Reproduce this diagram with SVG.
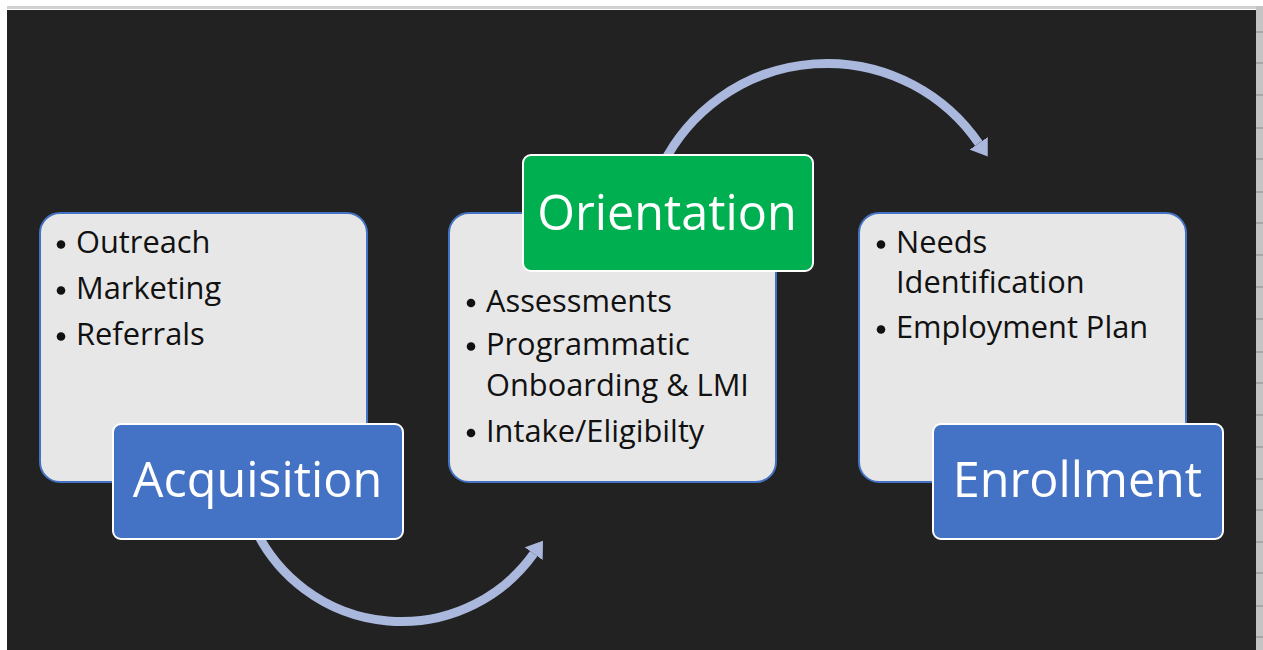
<svg xmlns="http://www.w3.org/2000/svg" width="1263" height="650" viewBox="0 0 1263 650">
  <defs>
    <style>
      .content { fill: #E7E7E7; stroke: #4472C4; stroke-width: 2; }
      .label { stroke: #FFFFFF; stroke-width: 2; }
      .blue { fill: #4472C4; }
      .green { fill: #00B050; }
      .title { font-family: "Open Sans", "Noto Sans", sans-serif; font-size: 48.5px; fill: #FFFFFF; text-anchor: middle; }
      .item { font-family: "Open Sans", "Noto Sans", sans-serif; font-size: 30.8px; fill: #111111; }
      .dot { fill: #111111; }
      .arc { fill: none; stroke: #AAB8DE; stroke-width: 9; }
      .grid { stroke: #8A8A8A; stroke-width: 1; }
    </style>
    <marker id="head" markerUnits="userSpaceOnUse" viewBox="0 0 16 22" refX="0" refY="11" markerWidth="16" markerHeight="22" orient="auto">
      <path d="M0,0 L16,11 L0,22 Z" fill="#AAB8DE"/>
    </marker>
  </defs>

  <rect x="0" y="0" width="1263" height="650" fill="#FFFFFF"/>
  <rect x="7" y="6" width="1250" height="3" fill="#D0D0D0"/>
  <rect x="1256" y="6" width="7" height="644" fill="#C4C4C4"/>
  <g>
    <line class="grid" x1="1256" y1="32" x2="1263" y2="32"/>
    <line class="grid" x1="1256" y1="63" x2="1263" y2="63"/>
    <line class="grid" x1="1256" y1="95" x2="1263" y2="95"/>
    <line class="grid" x1="1256" y1="128" x2="1263" y2="128"/>
    <line class="grid" x1="1256" y1="159" x2="1263" y2="159"/>
    <line class="grid" x1="1256" y1="192" x2="1263" y2="192"/>
    <line class="grid" x1="1256" y1="223" x2="1263" y2="223"/>
    <line class="grid" x1="1256" y1="255" x2="1263" y2="255"/>
    <line class="grid" x1="1256" y1="287" x2="1263" y2="287"/>
    <line class="grid" x1="1256" y1="319" x2="1263" y2="319"/>
    <line class="grid" x1="1256" y1="352" x2="1263" y2="352"/>
    <line class="grid" x1="1256" y1="383" x2="1263" y2="383"/>
    <line class="grid" x1="1256" y1="415" x2="1263" y2="415"/>
    <line class="grid" x1="1256" y1="447" x2="1263" y2="447"/>
    <line class="grid" x1="1256" y1="479" x2="1263" y2="479"/>
    <line class="grid" x1="1256" y1="510" x2="1263" y2="510"/>
    <line class="grid" x1="1256" y1="542" x2="1263" y2="542"/>
    <line class="grid" x1="1256" y1="573" x2="1263" y2="573"/>
    <line class="grid" x1="1256" y1="606" x2="1263" y2="606"/>
    <line class="grid" x1="1256" y1="637" x2="1263" y2="637"/>
  </g>
  <rect x="7" y="10" width="1249" height="640" fill="#222222"/>

  <g id="connectors">
    <path class="arc" d="M 255.6 530 A 162.3 162.3 0 0 0 533.7 553.7" marker-end="url(#head)"/>
    <path class="arc" d="M 662.5 165 A 184 184 0 0 1 978.7 143.3" marker-end="url(#head)"/>
  </g>

  <g id="acquisition">
    <rect class="content" x="40" y="213" width="327" height="269" rx="20"/>
    <circle class="dot" cx="61" cy="244.5" r="4.3"/>
    <text class="item" x="76" y="253">Outreach</text>
    <circle class="dot" cx="61" cy="290.5" r="4.3"/>
    <text class="item" x="76" y="299">Marketing</text>
    <circle class="dot" cx="61" cy="336.5" r="4.3"/>
    <text class="item" x="76" y="345">Referrals</text>
    <rect class="label blue" x="113" y="424" width="290" height="115" rx="8"/>
    <text class="title" x="257.5" y="497">Acquisition</text>
  </g>

  <g id="orientation">
    <rect class="content" x="449" y="213" width="327" height="269" rx="20"/>
    <circle class="dot" cx="471" cy="303" r="4.3"/>
    <text class="item" x="486" y="312">Assessments</text>
    <circle class="dot" cx="471" cy="346.5" r="4.3"/>
    <text class="item" x="486" y="355">Programmatic</text>
    <text class="item" x="486" y="396">Onboarding &amp; LMI</text>
    <circle class="dot" cx="471" cy="433" r="4.3"/>
    <text class="item" x="486" y="442">Intake/Eligibilty</text>
    <rect class="label green" x="523" y="155" width="290" height="116" rx="8"/>
    <text class="title" x="667" y="230">Orientation</text>
  </g>

  <g id="enrollment">
    <rect class="content" x="859" y="213" width="327" height="269" rx="20"/>
    <circle class="dot" cx="881" cy="244.5" r="4.3"/>
    <text class="item" x="896" y="253">Needs</text>
    <text class="item" x="896" y="293">Identification</text>
    <circle class="dot" cx="881" cy="329.5" r="4.3"/>
    <text class="item" x="896" y="338">Employment Plan</text>
    <rect class="label blue" x="933" y="424" width="290" height="115" rx="8"/>
    <text class="title" x="1077.5" y="497">Enrollment</text>
  </g>
</svg>
